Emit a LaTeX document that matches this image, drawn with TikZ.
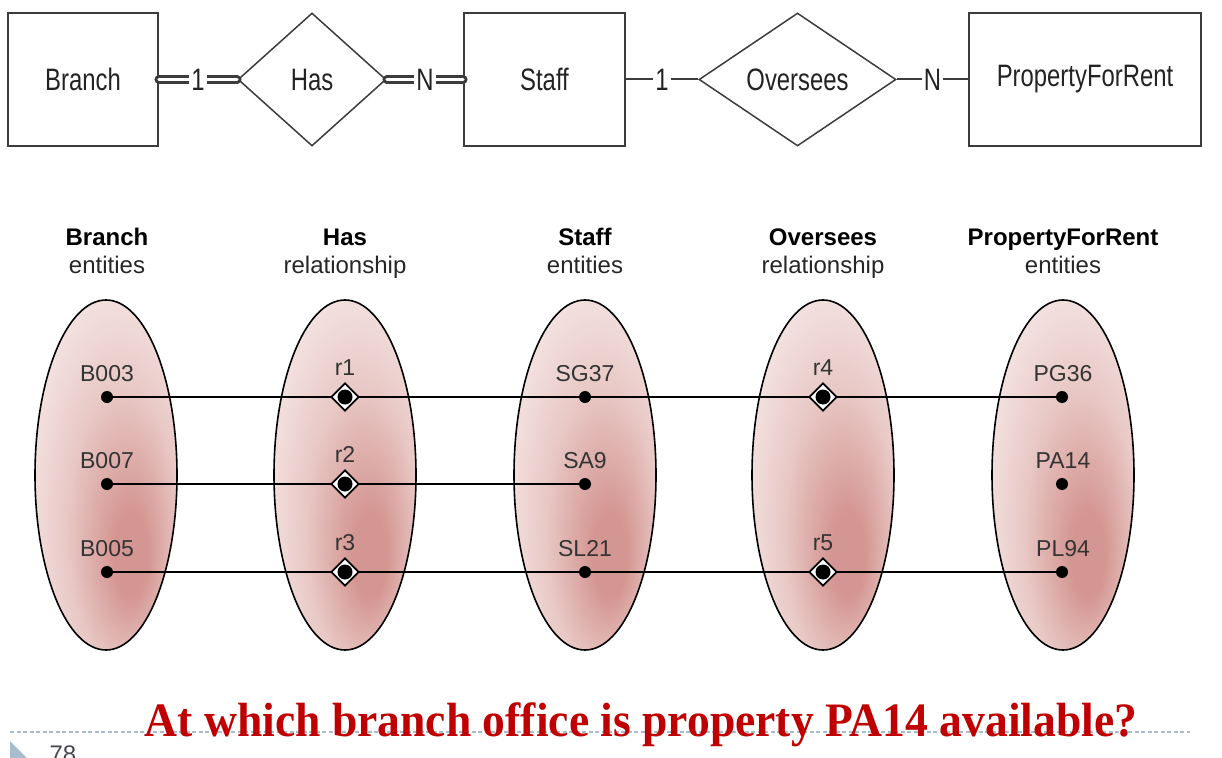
\documentclass[tikz,border=0pt]{standalone}
\usepackage{fontspec}
\setmainfont{Liberation Sans}
\newfontfamily\erfont[FakeStretch=0.77]{Liberation Sans}
\newfontfamily\askfont[FakeStretch=0.95]{Liberation Serif}
\usetikzlibrary{shapes.geometric}
\definecolor{erline}{RGB}{60,60,60}
\definecolor{ertext}{RGB}{35,35,35}
\definecolor{ovaldark}{RGB}{212,150,146}
\definecolor{ovalmid}{RGB}{232,200,197}
\definecolor{ovallight}{RGB}{247,236,235}
\definecolor{askred}{RGB}{192,0,0}
\definecolor{slideblue}{RGB}{168,188,208}
\definecolor{pagegray}{RGB}{70,70,80}
\pgfdeclareradialshading{ovalshade}{\pgfpoint{10bp}{-13bp}}{color(0bp)=(ovaldark); color(6bp)=(ovaldark); color(20bp)=(ovalmid); color(36bp)=(ovallight); color(50bp)=(ovallight)}
\pgfdeclarelayer{ovals}
\pgfdeclarelayer{links}
\pgfsetlayers{ovals,links,main}
\begin{document}
\begin{tikzpicture}[x=1pt,y=-1pt,
		erbox/.style={draw=erline, line width=1.5pt, minimum height=133pt, inner sep=0pt, font=\erfont\fontsize{31}{31}\selectfont, text=ertext},
		erdiamond/.style={diamond, draw=erline, line width=1.5pt, minimum height=133pt, inner sep=0pt},
		erword/.style={inner sep=0pt, font=\erfont\fontsize{31}{31}\selectfont, text=ertext},
		card/.style={fill=white, inner xsep=2pt, inner ysep=0pt, font=\erfont\fontsize{31}{31}\selectfont, text=ertext},
		dbl/.style={draw=erline, line width=3pt, double=white, double distance=2.6pt, line cap=round},
		sgl/.style={draw=erline, line width=2pt},
		oval/.style={shading=ovalshade, draw=black, line width=1.6pt},
		colhead/.style={anchor=base, font=\fontsize{24}{28}\selectfont\bfseries},
		colsub/.style={anchor=base, font=\fontsize{24}{28}\selectfont, text=black!85},
		occ/.style={anchor=base, font=\fontsize{23}{28}\selectfont, text=black!80},
		occdot/.style={circle, fill=black, minimum size=12pt, inner sep=0pt},
		reldot/.style={diamond, draw=black, line width=1.8pt, fill=white, minimum size=28pt, inner sep=0pt,
			path picture={\fill[black] (path picture bounding box.center) circle (7.5pt);}},
		link/.style={draw=black, line width=1.8pt}]
	\useasboundingbox (0,0) rectangle (1222,757);

	\node[erbox, minimum width=150pt] (branch) at (83,79.5) {Branch};
	\node[erdiamond, minimum width=148pt] (has) at (312,79.5) {};
	\node[erword] (hasword) at (has) {Has};
	\node[erbox, minimum width=161pt] (staff) at (544.5,79.5) {Staff};
	\node[erdiamond, minimum width=197pt] (oversees) at (797.5,79.5) {};
	\node[erword] (overseesword) at (oversees) {Oversees};
	\node[erbox, minimum width=232pt] (property) at (1085,79.5) {PropertyForRent};
	\draw[dbl] (branch) -- node[card] (hasone) {1} (has);
	\draw[dbl] (has) -- node[card] (hasmany) {N} (staff);
	\draw[sgl] (staff) -- node[card] (overone) {1} (oversees);
	\draw[sgl] (oversees) -- node[card] (overmany) {N} (property);

	\node[colhead] (branchhead) at (107,245) {Branch};
	\node[colsub] (branchsub) at (107,273) {entities};
	\node[colhead] (hashead) at (345,245) {Has};
	\node[colsub] (hassub) at (345,273) {relationship};
	\node[colhead] (staffhead) at (585,245) {Staff};
	\node[colsub] (staffsub) at (585,273) {entities};
	\node[colhead] (overhead) at (823,245) {Oversees};
	\node[colsub] (oversub) at (823,273) {relationship};
	\node[colhead] (prophead) at (1063,245) {PropertyForRent};
	\node[colsub] (propsub) at (1063,273) {entities};

	\begin{pgfonlayer}{ovals}
		\shadedraw[oval] (106,475) ellipse (71 and 175);
		\shadedraw[oval] (345,475) ellipse (71 and 175);
		\shadedraw[oval] (585,475) ellipse (71 and 175);
		\shadedraw[oval] (823,475) ellipse (71 and 175);
		\shadedraw[oval] (1063,475) ellipse (71 and 175);
	\end{pgfonlayer}

	\node[occdot] (b003) at (107,397) {};
	\node[occdot] (b007) at (107,484) {};
	\node[occdot] (b005) at (107,572) {};
	\node[occ] (b003txt) at (107,381) {B003};
	\node[occ] (b007txt) at (107,468) {B007};
	\node[occ] (b005txt) at (107,556) {B005};

	\node[reldot] (r1) at (345,397) {};
	\node[reldot] (r2) at (345,484) {};
	\node[reldot] (r3) at (345,572) {};
	\node[occ] (r1txt) at (345,375) {r1};
	\node[occ] (r2txt) at (345,462) {r2};
	\node[occ] (r3txt) at (345,550) {r3};

	\node[occdot] (sg37) at (585,397) {};
	\node[occdot] (sa9) at (585,484) {};
	\node[occdot] (sl21) at (585,572) {};
	\node[occ] (sg37txt) at (585,381) {SG37};
	\node[occ] (sa9txt) at (585,468) {SA9};
	\node[occ] (sl21txt) at (585,556) {SL21};

	\node[reldot] (r4) at (823,397) {};
	\node[reldot] (r5) at (823,572) {};
	\node[occ] (r4txt) at (823,375) {r4};
	\node[occ] (r5txt) at (823,550) {r5};

	\node[occdot] (pg36) at (1062,397) {};
	\node[occdot] (pa14) at (1062,484) {};
	\node[occdot] (pl94) at (1062,572) {};
	\node[occ] (pg36txt) at (1063,381) {PG36};
	\node[occ] (pa14txt) at (1063,468) {PA14};
	\node[occ] (pl94txt) at (1063,556) {PL94};

	\begin{pgfonlayer}{links}
		\draw[link] (b003.center) -- (r1.center) -- (sg37.center) -- (r4.center) -- (pg36.center);
		\draw[link] (b007.center) -- (r2.center) -- (sa9.center);
		\draw[link] (b005.center) -- (r3.center) -- (sl21.center) -- (r5.center) -- (pl94.center);
	\end{pgfonlayer}

	\coordinate (rulestart) at (10,732);
	\coordinate (ruleend) at (1190,732);
	\draw[slideblue, line width=1.4pt, dash pattern=on 4pt off 2.5pt] (rulestart) -- (ruleend);
	\fill[slideblue] (10,741) -- (28,759) -- (10,777) -- cycle;
	\node[anchor=base west, font=\fontsize{24}{28}\selectfont, text=pagegray] (pageno) at (46,762) {78};
	\node[anchor=base, font=\askfont\fontsize{48}{50}\selectfont\bfseries, text=askred] (ask) at (641,736) {At which branch office is property PA14 available?};
\end{tikzpicture}
\end{document}
